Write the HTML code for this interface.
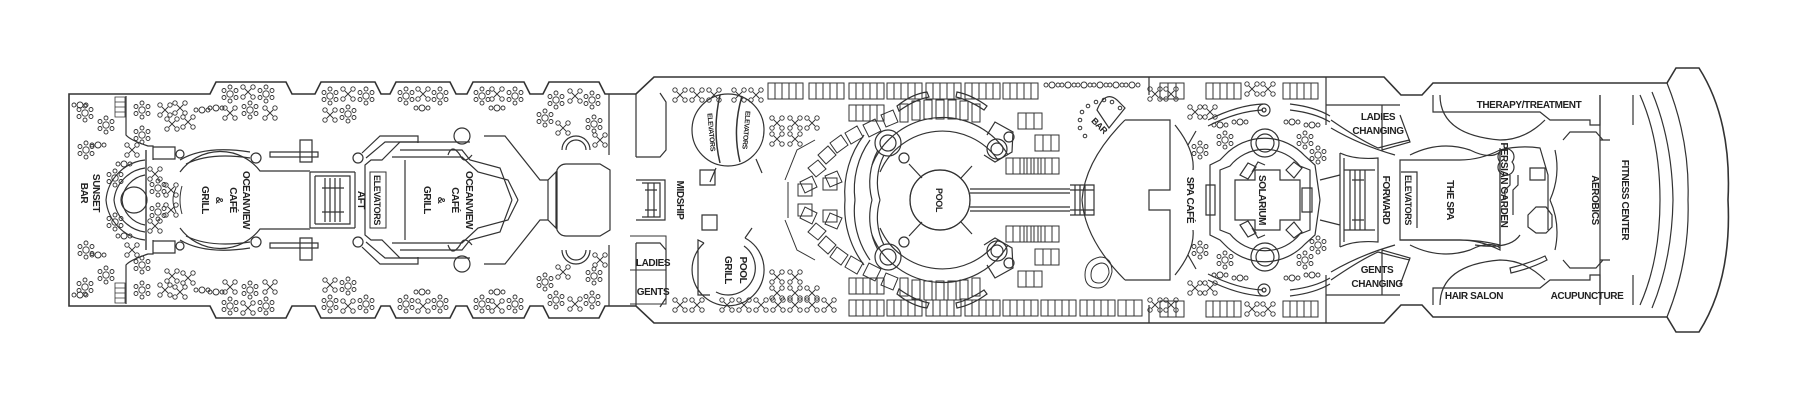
<!DOCTYPE html>
<html><head><meta charset="utf-8"><style>
html,body{margin:0;padding:0;background:#fff;}
svg{display:block;}
text{font-family:"Liberation Sans Narrow","Liberation Sans",sans-serif;font-weight:bold;font-size:10px;letter-spacing:-0.4px;fill:#222;}
</style></head><body>
<svg width="1800" height="400" viewBox="0 0 1800 400" xmlns="http://www.w3.org/2000/svg">
<defs>
<g id="t" fill="none" stroke="#333" stroke-width="0.9"><circle cx="-5" cy="-5" r="2.2"/><circle cx="5" cy="-5" r="2.2"/><circle cx="-5" cy="5" r="2.2"/><circle cx="5" cy="5" r="2.2"/><path d="M-3-3L3 3M3-3L-3 3"/></g>
<g id="f" fill="none" stroke="#333" stroke-width="0.9"><circle r="3.2"/><circle cx="0" cy="-7" r="2"/><circle cx="6" cy="-3.5" r="2"/><circle cx="6" cy="3.5" r="2"/><circle cx="0" cy="7" r="2"/><circle cx="-6" cy="3.5" r="2"/><circle cx="-6" cy="-3.5" r="2"/></g>
<g id="p" fill="none" stroke="#333" stroke-width="0.9"><circle cx="-4" r="2"/><circle cx="2" r="3"/><circle cx="8" r="2"/></g>
<g id="L" fill="none" stroke="#333" stroke-width="1"><rect width="35" height="16"/><path d="M7 0V16M14 0V16M21 0V16M28 0V16"/></g>
<g id="L3" fill="none" stroke="#333" stroke-width="1"><rect width="24" height="16"/><path d="M8 0V16M16 0V16"/></g>
<g id="half" fill="none" stroke="#333" stroke-width="1.2">
<path d="M69,200 L69,94 L210,94 L216,82 L286,82 L292,94 L315,94 L321,82 L375,82 L381,94 L390,94 L396,82 L450,82 L456,94 L467,94 L473,82 L524,82 L530,94 L543,94 L549,82 L599,82 L605,94 L636,94 L654,77 L1384,77 L1401,95 L1422,95 L1433,83 L1667,83 L1676,68 L1699,68 Q1732,120 1728,200" stroke-width="1.6"/>
<path d="M115,97h10v20h-10zM115,102h10M115,107h10M115,112h10" stroke-width="0.8"/>
<path d="M126,96 V135 Q130,140 148,146 L153,146 V160"/>
<path d="M153,147h22v12h-22"/>
<circle cx="180" cy="154" r="4"/>
<path d="M146,150 V250"/>
<path d="M145,175 A28,28 0 0 0 122,200 M145,168 A36,36 0 0 0 114,200 M145,160 A44,44 0 0 0 106,200"/>
<path d="M147,200 A13,13 0 0 0 134,187"/>
<path d="M180,160 Q205,145 250,152 M186,164 Q210,152 250,158"/>
<circle cx="256" cy="158" r="5"/>
<path d="M180,172 A50,50 0 0 1 260,171 H310"/>
<path d="M310,172 V200 M355,172 V200 M310,172 H355 M315,176 H350 V200 M315,176 V200 M325,178 V200 M330,178 V200 M335,178 V200 M340,178 V200 M322,188 h22"/>
<path d="M270,152 h48 v5 h-48z M300,140 h12 v22 h-12z"/>
<circle cx="358" cy="158" r="5"/>
<path d="M362,153 L380,136 H418 V143 M366,158 L385,142 H418"/>
<path d="M365,200 V165 L371,160 H382 L400,142 H470 M392,157 H462 L478,172 L508,180 L518,200 M400,150 H462 L470,160 L500,168 L512,200"/>
<path d="M405,160 V200"/>
<path d="M448,155 q4,-12 12,0 q4,10 12,0"/>
<circle cx="462" cy="136" r="8"/>
<path d="M484,136 H505 L540,180 H548 L556,172 V200 M548,180 V200"/>
<path d="M557,200 V170 Q560,164 566,164 H600 L610,170 V200"/>
<path d="M562,150 A14,14 0 0 1 590,150 M566,150 A10,10 0 0 1 586,150"/>
<path d="M609,94 V155 M636,94 V157 M636,157 H660 L666,150 V102 L660,93"/>
<path d="M636,180 H665 V200 M642,183 H660 V200 M648,183 V200 M654,183 V200 M645,190 h12"/>
<path d="M864,135 A95,95 0 0 0 845,200 M870,140 A85,85 0 0 0 855,200 M878,150 A68,68 0 0 0 872,200 M884,155 A60,60 0 0 0 880,200"/>
<path d="M872,165 A76,76 0 0 1 1008,155 M880,172 A68,68 0 0 1 998,160"/>
<circle cx="888" cy="143" r="13"/><circle cx="888" cy="143" r="8"/>
<circle cx="904" cy="158" r="5"/>
<circle cx="997" cy="149" r="10"/><circle cx="997" cy="149" r="6"/><circle cx="1009" cy="137" r="5"/>
<path d="M987,135 L995,122 L1013,132 L1012,152 L995,162 L984,155"/>
<circle cx="940" cy="200" r="30"/>
<path d="M909,164 L922,178 M972,166 L961,178"/>
<path d="M970,193 H1070 M970,189 H1070 M1070,185 h24 v15 M1070,190 h24 M1075,185 v15 M1080,185 v15 M1085,185 v15"/>
<path d="M1125,120 L1170,120 L1170,190 L1149,190 L1149,200 M1125,120 Q1085,160 1082,200"/>
<path d="M1149,77 V95 M1175,125 Q1195,150 1193,170 M1188,145 l8,-14"/>
<g stroke-width="1">
<path d="M863,125 l12,-6 l6,12 l-12,6z M881,115 l12,-5 l5,12 l-12,5z"/>
<path d="M845,133 l12,-7 l6,11 l-12,7z M830,143 l11,-8 l7,10 l-11,8z M818,155 l10,-9 l8,9 l-10,9z"/>
<path d="M808,168 l10,-8 l8,9 l-10,8z M800,182 l12,-6 l5,11 l-12,6z M798,196 h14 v-12 h-14z"/>
<path d="M825,176 l12,-5 l5,11 l-12,5z M823,190 h14 v-12 h-14z"/>
<path d="M900,122 h8 v-18 h-8z M912,120 h8 v-19 h-8z M924,119 h8 v-19 h-8z M936,119 h8 v-19 h-8z M948,119 h8 v-19 h-8z M960,120 h8 v-19 h-8z M972,122 h8 v-18 h-8z"/>
<path d="M785,180 l12,-30 l18,-10 M788,200 v-18"/>
</g>
<path d="M897,106 q15,-12 30,-14 l2,5 q-15,3 -30,14z M957,92 q15,3 30,14 l-3,4 q-15,-10 -28,-13z"/>
<path d="M1326,77 V125 M1326,105 H1400 M1382,105 V150 L1410,142 L1400,115"/>
<path d="M1208,120 q30,-15 55,-16 M1208,126 q30,-15 55,-16 M1290,104 q25,3 40,12 M1290,110 q25,3 40,12"/>
<circle cx="1264" cy="110" r="6"/><circle cx="1264" cy="110" r="2"/>
<circle cx="1265" cy="143" r="14"/><circle cx="1265" cy="143" r="9"/>
<path d="M1210,200 V165 L1220,160 L1225,155 A55,55 0 0 1 1305,156 L1315,165 L1320,200"/>
<path d="M1220,200 V170 L1230,166 A45,45 0 0 1 1300,166 L1310,170 V200"/>
<path d="M1235,200 V180 H1255 V170 H1280 V180 H1300 V200"/>
<path d="M1206,200 V185 H1215 V200 M1302,200 V188 H1312 V200"/>
<path d="M1240,175 l8,-12 l8,4 l-8,12z M1252,172 l6,-10 l7,3 M1286,170 l8,-8 l8,6 l-8,10z"/>
<path d="M1320,180 L1340,175 M1340,153 Q1355,160 1378,158 V200 M1340,153 V200 M1344,158 V200 M1344,170 H1375"/>
<path d="M1350,170 V200 M1355,170 V200 M1360,170 V200 M1365,170 V200 M1352,180 h12"/>
<path d="M1331,120 Q1360,140 1378,148 Q1400,142 1410,140 M1331,128 Q1360,145 1395,155"/>
<path d="M1400,200 V160 H1460 Q1480,160 1500,150 V200"/>
<path d="M1410,155 Q1440,140 1470,150 Q1490,160 1500,152"/>
<path d="M1433,95 V112 H1540 L1550,120 H1590 V125 H1600 V95"/>
<path d="M1440,95 Q1440,135 1500,140 Q1525,140 1545,120"/>
<path d="M1555,150 A80,80 0 0 1 1550,200 M1563,140 L1570,132 H1596 L1603,140 M1600,140 H1610"/>
<path d="M1600,95 V200 M1633,95 V125"/>
<path d="M1640,95 Q1660,140 1660,200 M1652,92 Q1672,140 1673,200 M1667,83 Q1690,140 1688,200"/>
</g>
</defs>
<use href="#half"/>
<use href="#half" transform="matrix(1 0 0 -1 0 400)"/>
<g fill="none" stroke="#333" stroke-width="1.2">
<circle cx="728" cy="130" r="36"/>
<path d="M720,95 Q712,130 720,163 M742,96 Q732,130 740,162" stroke-width="1.5"/>
<path d="M716,168 L710,182 M756,159 L762,173"/>
<path d="M700,170 h15 v15 h-15 z M702,215 h15 v15 h-15z"/>
<path d="M1097,110 q8,-20 20,-10 l8,8 l-16,20 z"/>
<path d="M134,187 A13,13 0 0 0 134,213"/>
<path d="M1500,162 A8,8 0 1 1 1512,162 A8,8 0 1 1 1500,162 z"/>
<path d="M1510,175 v10 l-5,5 v10 M1518,175 v10 l-5,5 v25 M1530,168 h15 v12 h-15z M1528,215 l8,-8 h10 l6,8 v12 l-6,6 h-10 l-8,-6z"/>
<path d="M1500,148 V245 M1500,150 Q1520,145 1540,148 L1548,175 V230 M1475,245 Q1510,250 1520,235"/>
<path d="M1401,172 h16 v56 M1400,240 H1460 Q1480,240 1500,245"/>
<path d="M1510,268 q20,-5 35,-12 l2,4 q-15,8 -36,13z"/>
<path d="M704,243 A36,36 0 1 0 745,238 M704,243 L698,240 V295 H710 M745,238 L752,228"/>
<path d="M744,246 A27,27 0 0 1 716,292"/>
</g>
<g>
<use href="#f" x="85" y="113"/><use href="#p" x="78" y="105"/><use href="#f" x="106" y="125"/><use href="#p" x="96" y="145"/><use href="#f" x="86" y="150"/>
<use href="#t" x="132" y="150"/><use href="#p" x="122" y="164"/><use href="#f" x="115" y="178"/>
<use href="#f" x="142" y="110"/><use href="#t" x="165" y="110"/><use href="#t" x="180" y="108"/><use href="#t" x="172" y="124"/><use href="#t" x="188" y="122"/><use href="#p" x="200" y="110"/>
<use href="#f" x="142" y="135"/><use href="#t" x="155" y="174"/><use href="#f" x="158" y="188"/><use href="#t" x="171" y="190"/>
<use href="#f" x="85" y="287"/><use href="#p" x="78" y="295"/><use href="#f" x="106" y="275"/><use href="#p" x="96" y="255"/><use href="#f" x="86" y="250"/>
<use href="#t" x="132" y="250"/><use href="#p" x="122" y="236"/><use href="#f" x="115" y="222"/>
<use href="#f" x="142" y="290"/><use href="#t" x="165" y="290"/><use href="#t" x="180" y="292"/><use href="#t" x="172" y="276"/><use href="#t" x="188" y="278"/><use href="#p" x="200" y="290"/>
<use href="#f" x="142" y="265"/><use href="#t" x="155" y="226"/><use href="#f" x="158" y="212"/><use href="#t" x="171" y="210"/>
<path d="M176,188 q-6,12 0,24 M182,186 q-4,14 0,28" fill="none" stroke="#333"/>
<use href="#f" x="230" y="94"/><use href="#t" x="248" y="92"/><use href="#f" x="266" y="94"/><use href="#p" x="214" y="108"/><use href="#f" x="250" y="110"/><use href="#t" x="230" y="113"/><use href="#t" x="270" y="113"/>
<use href="#f" x="330" y="96"/><use href="#t" x="348" y="94"/><use href="#f" x="366" y="96"/><use href="#t" x="330" y="115"/><use href="#f" x="348" y="114"/>
<use href="#f" x="406" y="96"/><use href="#t" x="423" y="94"/><use href="#f" x="440" y="96"/><use href="#p" x="420" y="108"/>
<use href="#f" x="482" y="96"/><use href="#t" x="497" y="94"/><use href="#f" x="515" y="96"/><use href="#p" x="495" y="108"/>
<use href="#f" x="556" y="100"/><use href="#t" x="575" y="96"/><use href="#f" x="592" y="100"/><use href="#f" x="545" y="118"/><use href="#t" x="563" y="128"/><use href="#f" x="594" y="124"/><use href="#t" x="600" y="140"/>
<use href="#f" x="230" y="306"/><use href="#t" x="248" y="308"/><use href="#f" x="266" y="306"/><use href="#p" x="214" y="292"/><use href="#f" x="250" y="290"/><use href="#t" x="230" y="287"/><use href="#t" x="270" y="287"/>
<use href="#f" x="330" y="304"/><use href="#t" x="348" y="306"/><use href="#f" x="366" y="304"/><use href="#t" x="330" y="285"/><use href="#f" x="348" y="286"/>
<use href="#f" x="406" y="304"/><use href="#t" x="423" y="306"/><use href="#f" x="440" y="304"/><use href="#p" x="420" y="292"/>
<use href="#f" x="482" y="304"/><use href="#t" x="497" y="306"/><use href="#f" x="515" y="304"/><use href="#p" x="495" y="292"/>
<use href="#f" x="556" y="300"/><use href="#t" x="575" y="304"/><use href="#f" x="592" y="300"/><use href="#f" x="545" y="282"/><use href="#t" x="563" y="272"/><use href="#f" x="594" y="276"/><use href="#t" x="600" y="260"/>
</g>
<g>
<use href="#t" x="680" y="95"/><use href="#t" x="697" y="95"/><use href="#t" x="714" y="95"/><use href="#t" x="739" y="95"/><use href="#t" x="756" y="95"/>
<use href="#t" x="777" y="123"/><use href="#t" x="795" y="123"/><use href="#t" x="812" y="123"/><use href="#t" x="777" y="139"/><use href="#t" x="795" y="139"/>
<use href="#t" x="680" y="305"/><use href="#t" x="697" y="305"/><use href="#t" x="727" y="305"/><use href="#t" x="744" y="305"/><use href="#t" x="761" y="305"/><use href="#t" x="778" y="305"/><use href="#t" x="795" y="305"/><use href="#t" x="812" y="305"/><use href="#t" x="829" y="305"/>
<use href="#t" x="777" y="277"/><use href="#t" x="795" y="277"/><use href="#t" x="777" y="293"/><use href="#t" x="795" y="293"/><use href="#t" x="812" y="293"/>
<use href="#L" x="768" y="83"/><use href="#L" x="809" y="83"/><use href="#L" x="849" y="83"/><use href="#L" x="887" y="83"/><use href="#L" x="926" y="83"/><use href="#L" x="965" y="83"/><use href="#L" x="1003" y="83"/>
<use href="#L" x="849" y="105"/><use href="#L" x="849" y="278"/>
<use href="#L" x="849" y="300"/><use href="#L" x="887" y="300"/><use href="#L" x="926" y="300"/><use href="#L" x="965" y="300"/><use href="#L" x="1003" y="300"/><use href="#L" x="1041" y="300"/><use href="#L" x="1080" y="300"/><use href="#L3" x="1118" y="300"/>
<use href="#L3" x="1018" y="113"/><use href="#L3" x="1035" y="135"/><use href="#L" x="1006" y="158"/><use href="#L" x="1024" y="158"/>
<use href="#L3" x="1018" y="271"/><use href="#L3" x="1035" y="249"/><use href="#L" x="1006" y="226"/><use href="#L" x="1024" y="226"/>
<use href="#p" x="1050" y="85"/><use href="#p" x="1066" y="85"/><use href="#p" x="1082" y="85"/><use href="#p" x="1098" y="85"/><use href="#p" x="1114" y="85"/><use href="#p" x="1130" y="85"/>
<g fill="none" stroke="#333"><circle cx="1080" cy="120" r="1.8"/><circle cx="1080" cy="128" r="1.8"/><circle cx="1082" cy="112" r="1.8"/><circle cx="1088" cy="106" r="1.8"/><circle cx="1096" cy="102" r="1.8"/><circle cx="1085" cy="136" r="1.8"/><circle cx="1120" cy="108" r="1.8"/><circle cx="1104" cy="100" r="1.8"/><circle cx="1112" cy="102" r="1.8"/></g>
<path d="M1085,275 q0,-15 15,-18 q12,0 12,15 q-4,16 -14,16 q-13,0 -13,-13z M1091,275 q0,-10 10,-12 q8,0 8,10 q-3,10 -10,10 q-8,0 -8,-8z" fill="none" stroke="#333"/>
<path d="M630,236 h36 v68 h-36 M630,270 h36" fill="none" stroke="#333"/>
</g>
<g>
<use href="#L" x="1206" y="83"/><use href="#t" x="1252" y="89"/><use href="#t" x="1268" y="89"/><use href="#L" x="1283" y="83"/>
<use href="#L" x="1206" y="301"/><use href="#t" x="1252" y="309"/><use href="#t" x="1268" y="309"/><use href="#L" x="1283" y="301"/>
<use href="#t" x="1195" y="112"/><use href="#t" x="1210" y="112"/><use href="#t" x="1195" y="288"/><use href="#t" x="1210" y="288"/>
<use href="#t" x="1155" y="94"/><use href="#t" x="1171" y="94"/><use href="#t" x="1155" y="305"/><use href="#t" x="1171" y="305"/>
<use href="#L3" x="1160" y="83"/><use href="#L3" x="1160" y="301"/>
<use href="#f" x="1225" y="140"/><use href="#f" x="1305" y="140"/><use href="#f" x="1225" y="260"/><use href="#f" x="1305" y="260"/>
<use href="#p" x="1218" y="125"/><use href="#p" x="1238" y="122"/><use href="#p" x="1290" y="122"/><use href="#p" x="1310" y="125"/>
<use href="#p" x="1218" y="275"/><use href="#p" x="1238" y="278"/><use href="#p" x="1290" y="278"/><use href="#p" x="1310" y="275"/>
<use href="#f" x="1200" y="150"/><use href="#f" x="1200" y="250"/><use href="#f" x="1318" y="155"/><use href="#f" x="1318" y="245"/>
</g>
<g>
<text transform="translate(97,193) rotate(90)" text-anchor="middle" dy="4">SUNSET</text>
<text transform="translate(85,193) rotate(90)" text-anchor="middle" dy="4">BAR</text>
<text transform="translate(247,200) rotate(90)" text-anchor="middle" dy="4">OCEANVIEW</text>
<text transform="translate(234,200) rotate(90)" text-anchor="middle" dy="4">CAFÉ</text>
<text transform="translate(220,200) rotate(90)" text-anchor="middle" dy="4">&amp;</text>
<text transform="translate(206,200) rotate(90)" text-anchor="middle" dy="4">GRILL</text>
<text transform="translate(362,200) rotate(90)" text-anchor="middle" dy="4">AFT</text>
<rect x="370" y="172" width="16" height="56" fill="none" stroke="#333"/>
<text transform="translate(378,200) rotate(90)" text-anchor="middle" dy="4" style="font-size:9px">ELEVATORS</text>
<text transform="translate(470,200) rotate(90)" text-anchor="middle" dy="4">OCEANVIEW</text>
<text transform="translate(456,200) rotate(90)" text-anchor="middle" dy="4">CAFÉ</text>
<text transform="translate(442,200) rotate(90)" text-anchor="middle" dy="4">&amp;</text>
<text transform="translate(428,200) rotate(90)" text-anchor="middle" dy="4">GRILL</text>
<text transform="translate(681,200) rotate(90)" text-anchor="middle" dy="4">MIDSHIP</text>
<text transform="translate(712,132) rotate(85)" text-anchor="middle" dy="3" style="font-size:7px">ELEVATORS</text>
<text transform="translate(747,130) rotate(95)" text-anchor="middle" dy="3" style="font-size:7px">ELEVATORS</text>
<text x="653" y="266" text-anchor="middle">LADIES</text>
<text x="653" y="295" text-anchor="middle">GENTS</text>
<text transform="translate(744,270) rotate(90)" text-anchor="middle" dy="4">POOL</text>
<text transform="translate(729,270) rotate(90)" text-anchor="middle" dy="4">GRILL</text>
<text transform="translate(940,200) rotate(90)" text-anchor="middle" dy="4" style="font-size:9px">POOL</text>
<text transform="translate(1100,125) rotate(45)" text-anchor="middle" dy="4" style="font-size:9px">BAR</text>
<text transform="translate(1191,200) rotate(90)" text-anchor="middle" dy="4">SPA CAFÉ</text>
<text transform="translate(1263,200) rotate(90)" text-anchor="middle" dy="4">SOLARIUM</text>
<text x="1378" y="120" text-anchor="middle">LADIES</text>
<text x="1378" y="134" text-anchor="middle">CHANGING</text>
<text x="1377" y="273" text-anchor="middle">GENTS</text>
<text x="1377" y="287" text-anchor="middle">CHANGING</text>
<text transform="translate(1387,200) rotate(90)" text-anchor="middle" dy="4">FORWARD</text>
<text transform="translate(1409,200) rotate(90)" text-anchor="middle" dy="4" style="font-size:9px">ELEVATORS</text>
<text transform="translate(1451,200) rotate(90)" text-anchor="middle" dy="4">THE SPA</text>
<text transform="translate(1505,185) rotate(90)" text-anchor="middle" dy="4">PERSIAN GARDEN</text>
<text x="1529" y="108" text-anchor="middle">THERAPY/TREATMENT</text>
<text transform="translate(1596,200) rotate(90)" text-anchor="middle" dy="4">AEROBICS</text>
<text transform="translate(1626,200) rotate(90)" text-anchor="middle" dy="4">FITNESS CENTER</text>
<text x="1474" y="299" text-anchor="middle">HAIR SALON</text>
<text x="1587" y="299" text-anchor="middle">ACUPUNCTURE</text>
</g>
</svg>
</body></html>
